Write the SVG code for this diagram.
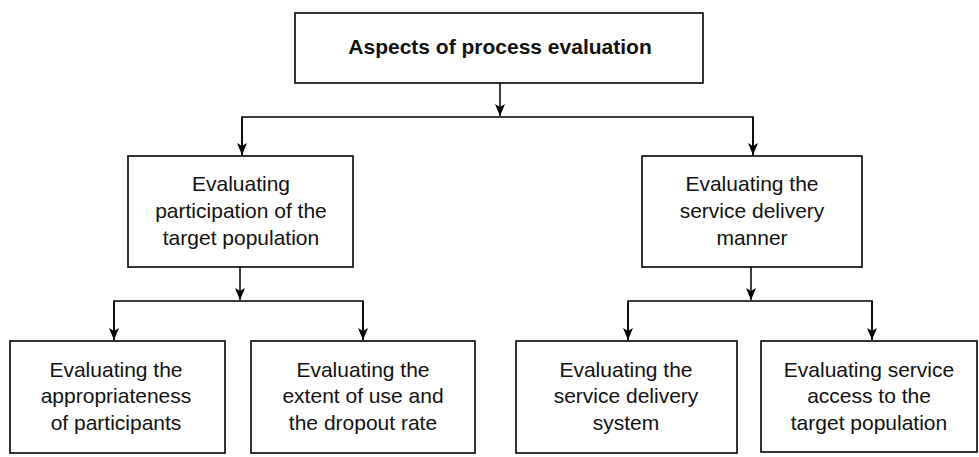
<svg xmlns="http://www.w3.org/2000/svg" width="979" height="457" viewBox="0 0 979 457">
<defs>
<style>
.box{fill:#fff;stroke:#000;stroke-width:1.6}
.ln{fill:none;stroke:#000;stroke-width:1.5}
.t{font-family:"Liberation Sans",Arial,sans-serif;font-size:21px;fill:#111;text-anchor:middle}
.b{font-weight:bold}
</style>
<marker id="ah" viewBox="0 0 12 10" refX="12" refY="5" markerWidth="12" markerHeight="10" markerUnits="userSpaceOnUse" orient="auto">
<path d="M0,0 L12,5 L0,10 L3,5 Z" fill="#000"/>
</marker>
</defs>
<rect width="979" height="457" fill="#fff"/>
<g id="connectors">
<path class="ln" d="M500,83 V116" marker-end="url(#ah)"/>
<path class="ln" d="M242,156 V117 H753 V156" />
<path class="ln" d="M242,117 V155" marker-end="url(#ah)"/>
<path class="ln" d="M753,117 V155" marker-end="url(#ah)"/>
<path class="ln" d="M240,267 V300" marker-end="url(#ah)"/>
<path class="ln" d="M114,340 V301 H363 V340"/>
<path class="ln" d="M114,301 V340" marker-end="url(#ah)"/>
<path class="ln" d="M363,301 V340" marker-end="url(#ah)"/>
<path class="ln" d="M751,267 V300" marker-end="url(#ah)"/>
<path class="ln" d="M628,340 V301 H872 V340"/>
<path class="ln" d="M628,301 V340" marker-end="url(#ah)"/>
<path class="ln" d="M872,301 V340" marker-end="url(#ah)"/>
</g>
<g id="root">
<rect class="box" x="295" y="13" width="408" height="70"/>
<text class="t b" x="500" y="54">Aspects of process evaluation</text>
</g>
<g id="participation">
<rect class="box" x="128" y="156" width="225" height="111"/>
<text class="t" x="241" y="191">Evaluating</text>
<text class="t" x="241" y="218">participation of the</text>
<text class="t" x="241" y="245">target population</text>
</g>
<g id="manner">
<rect class="box" x="642" y="156" width="220" height="111"/>
<text class="t" x="752" y="191">Evaluating the</text>
<text class="t" x="752" y="218">service delivery</text>
<text class="t" x="752" y="245">manner</text>
</g>
<g id="appropriateness">
<rect class="box" x="10" y="341" width="215" height="112"/>
<text class="t" x="116" y="377">Evaluating the</text>
<text class="t" x="116" y="403">appropriateness</text>
<text class="t" x="116" y="430">of participants</text>
</g>
<g id="extent">
<rect class="box" x="251" y="341" width="224" height="112"/>
<text class="t" x="363" y="377">Evaluating the</text>
<text class="t" x="363" y="403">extent of use and</text>
<text class="t" x="363" y="430">the dropout rate</text>
</g>
<g id="system">
<rect class="box" x="516" y="341" width="221" height="112"/>
<text class="t" x="626" y="377">Evaluating the</text>
<text class="t" x="626" y="403">service delivery</text>
<text class="t" x="626" y="430">system</text>
</g>
<g id="access">
<rect class="box" x="761" y="341" width="216" height="111"/>
<text class="t" x="869" y="377">Evaluating service</text>
<text class="t" x="869" y="403">access to the</text>
<text class="t" x="869" y="430">target population</text>
</g>
</svg>
